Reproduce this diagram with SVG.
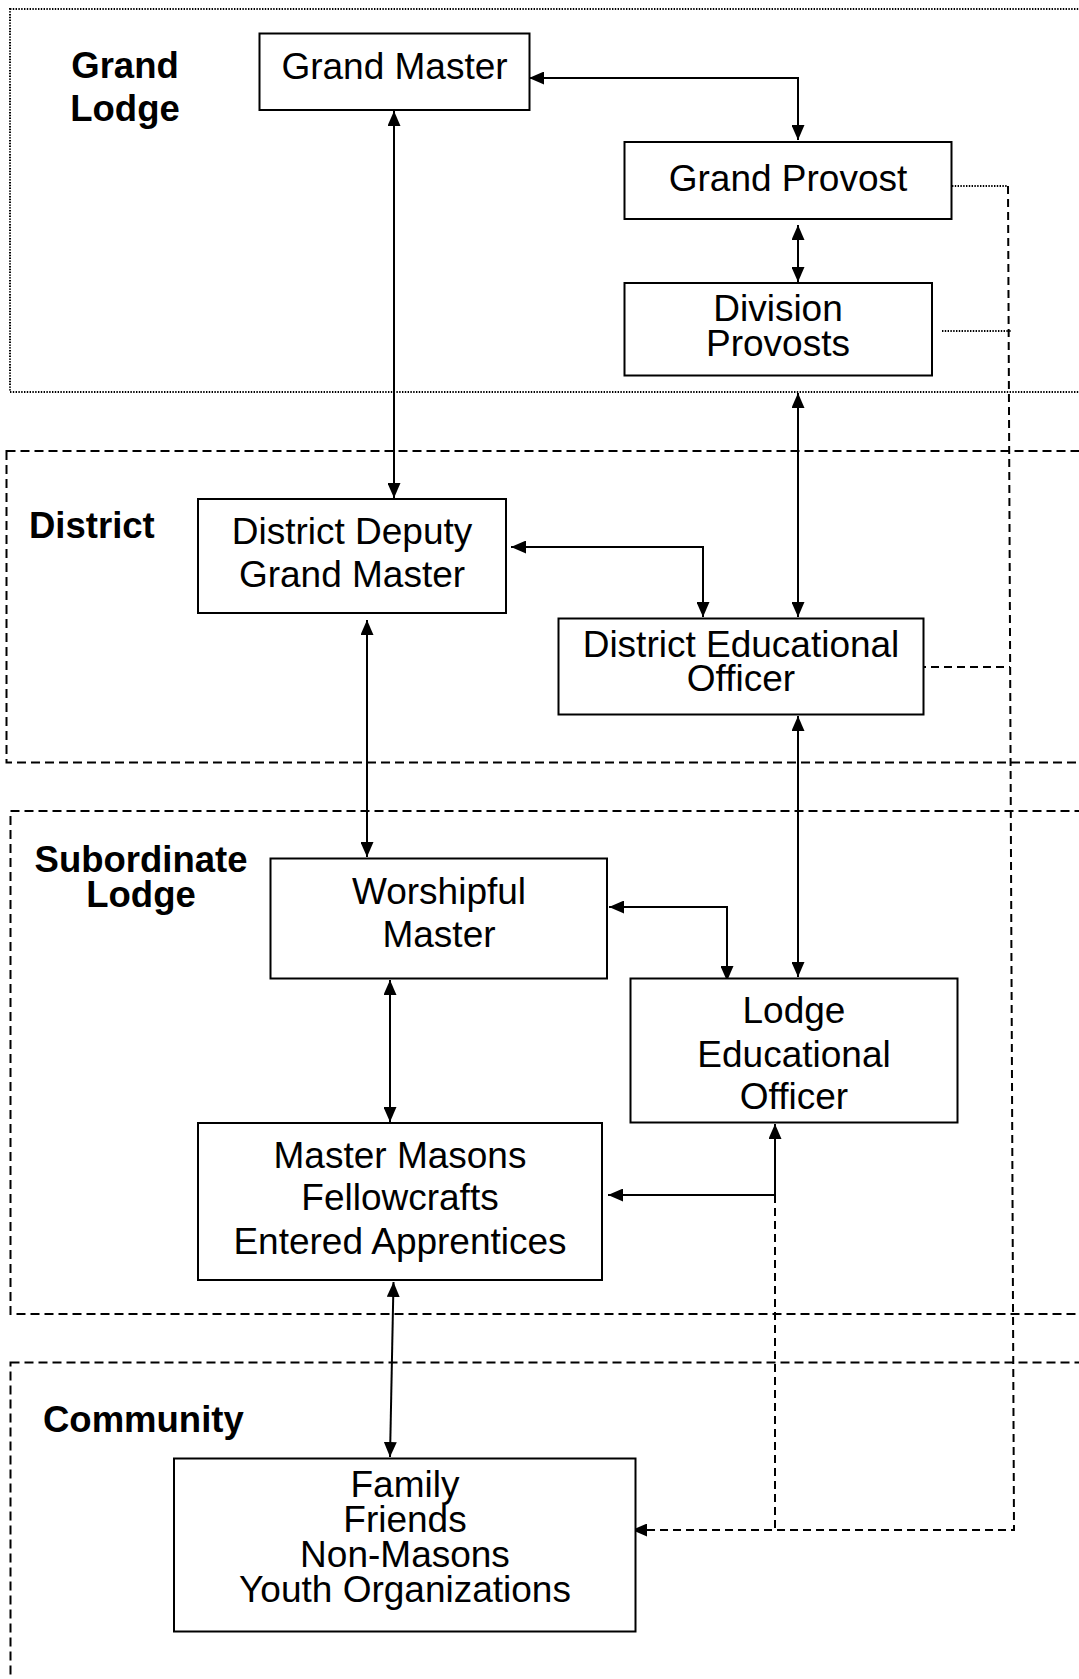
<svg xmlns="http://www.w3.org/2000/svg" width="1079" height="1679" viewBox="0 0 1079 1679">
<style>
.box{fill:#fff;stroke:#000;stroke-width:2}
.t{font-family:"Liberation Sans",Arial,sans-serif;font-size:37px;fill:#000;text-anchor:middle}
.lbl{font-family:"Liberation Sans",Arial,sans-serif;font-size:36.5px;font-weight:bold;fill:#000}
.grp{fill:none;stroke:#000;stroke-width:2;stroke-dasharray:9,5}
.dot{fill:none;stroke:#000;stroke-width:2;stroke-dasharray:1.4,1.4}
.c{fill:none;stroke:#000;stroke-width:2}
.cd{fill:none;stroke:#000;stroke-width:2;stroke-dasharray:8,5}
</style>
<defs>
<marker id="ah" markerUnits="userSpaceOnUse" markerWidth="15" markerHeight="13" refX="15" refY="6.5" orient="auto-start-reverse">
<path d="M0,0 L15,6.5 L0,13 Z" fill="#000"/>
</marker>
</defs>
<rect width="1079" height="1679" fill="#fff"/>
<g id="groups">
<rect class="dot" x="10" y="9" width="1100" height="383"/>
<rect class="grp" x="6.5" y="451" width="1100" height="311.5"/>
<rect class="grp" x="10.5" y="811" width="1100" height="503"/>
<rect class="grp" x="10.5" y="1362.5" width="1100" height="400"/>
<text class="lbl" x="125" y="78" text-anchor="middle">Grand</text>
<text class="lbl" x="125" y="121" text-anchor="middle">Lodge</text>
<text class="lbl" x="29" y="538">District</text>
<text class="lbl" x="141" y="872" text-anchor="middle">Subordinate</text>
<text class="lbl" x="141" y="907" text-anchor="middle">Lodge</text>
<text class="lbl" x="43" y="1432">Community</text>
</g>
<g id="connectors">
<path class="c" d="M529,78 H798 V140" marker-start="url(#ah)" marker-end="url(#ah)"/>
<path class="c" d="M394,111 V498" marker-start="url(#ah)" marker-end="url(#ah)"/>
<path class="c" d="M798,225 V282" marker-start="url(#ah)" marker-end="url(#ah)"/>
<path class="c" d="M798,393 V617" marker-start="url(#ah)" marker-end="url(#ah)"/>
<path class="c" d="M511,547 H703 V617" marker-start="url(#ah)" marker-end="url(#ah)"/>
<path class="c" d="M367,620 V857" marker-start="url(#ah)" marker-end="url(#ah)"/>
<path class="c" d="M609,907 H727 V981" marker-start="url(#ah)" marker-end="url(#ah)"/>
<path class="c" d="M798,716 V977" marker-start="url(#ah)" marker-end="url(#ah)"/>
<path class="c" d="M390,980 V1122" marker-start="url(#ah)" marker-end="url(#ah)"/>
<path class="c" d="M775,1124 V1195 H608" marker-start="url(#ah)" marker-end="url(#ah)"/>
<path class="c" d="M393.5,1282 L390,1457" marker-start="url(#ah)" marker-end="url(#ah)"/>
<path class="dot" d="M952,186 H1008"/>
<path class="dot" d="M942,331 H1011"/>
<path class="cd" d="M918,667 H1010"/>
<path class="cd" d="M1008,186 L1014,1530 H632" marker-end="url(#ah)"/>
<path class="cd" d="M775,1195 V1530"/>
</g>
<g id="grand-master">
<rect class="box" x="259.5" y="33.5" width="270" height="76.5"/>
<text class="t" x="394.5" y="79">Grand Master</text>
</g>
<g id="grand-provost">
<rect class="box" x="624.5" y="142" width="327" height="77"/>
<text class="t" x="788" y="191">Grand Provost</text>
</g>
<g id="division-provosts">
<rect class="box" x="624.5" y="283" width="307.5" height="92.5"/>
<text class="t" x="778" y="321">Division</text>
<text class="t" x="778" y="356">Provosts</text>
</g>
<g id="district-deputy">
<rect class="box" x="198" y="499" width="308" height="114"/>
<text class="t" x="352" y="544">District Deputy</text>
<text class="t" x="352" y="587">Grand Master</text>
</g>
<g id="district-educational-officer">
<rect class="box" x="558.5" y="618.5" width="365" height="96"/>
<text class="t" x="741" y="657">District Educational</text>
<text class="t" x="741" y="691">Officer</text>
</g>
<g id="worshipful-master">
<rect class="box" x="270.5" y="858.5" width="336.5" height="120"/>
<text class="t" x="439" y="904">Worshipful</text>
<text class="t" x="439" y="947">Master</text>
</g>
<g id="lodge-educational-officer">
<rect class="box" x="630.5" y="978.5" width="327" height="144"/>
<text class="t" x="794" y="1023">Lodge</text>
<text class="t" x="794" y="1067">Educational</text>
<text class="t" x="794" y="1109">Officer</text>
</g>
<g id="masons">
<rect class="box" x="198" y="1123" width="404" height="157"/>
<text class="t" x="400" y="1168">Master Masons</text>
<text class="t" x="400" y="1210">Fellowcrafts</text>
<text class="t" x="400" y="1254">Entered Apprentices</text>
</g>
<g id="community">
<rect class="box" x="174" y="1458.5" width="461.5" height="173"/>
<text class="t" x="405" y="1497">Family</text>
<text class="t" x="405" y="1532">Friends</text>
<text class="t" x="405" y="1567">Non-Masons</text>
<text class="t" x="405" y="1602">Youth Organizations</text>
</g>
</svg>
